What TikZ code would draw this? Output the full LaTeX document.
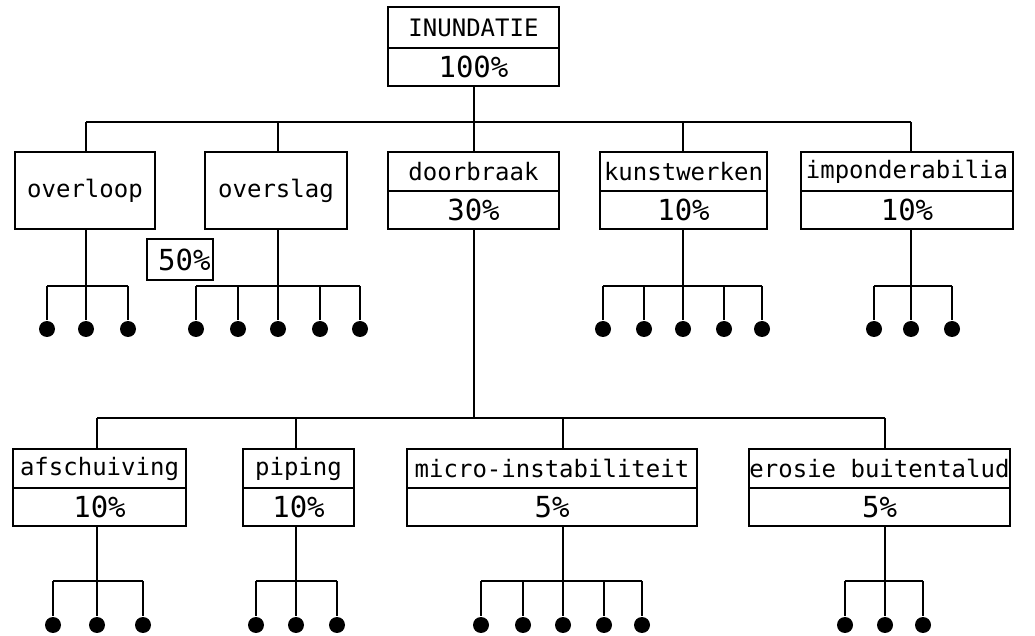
\documentclass[tikz,border=0pt]{standalone}
\usepackage{fontspec}
\newfontfamily\plotfont{DejaVu Sans Mono}
\usetikzlibrary{positioning}

\tikzset{
  cell/.style={draw, line width=1pt, inner sep=0pt, outer sep=0pt,
    minimum height=19.5pt, font=\plotfont\fontsize{12}{13}\selectfont},
  pct/.style={cell, minimum height=19pt, font=\plotfont\fontsize{14.5}{16}\selectfont},
  leaf/.style={circle, fill, inner sep=0pt, minimum size=8pt},
}

\begin{document}
\begin{tikzpicture}[x=0.5pt,y=-0.5pt,line width=1pt]
    \useasboundingbox (0,0) rectangle (1035,636);

    % bus levels
    \coordinate (b1) at (0,122);
    \coordinate (l1) at (0,286);
    \coordinate (b2) at (0,418);
    \coordinate (l2) at (0,581);

    % top
    \node[cell, minimum width=85.5pt, minimum height=20.5pt] (inu) at (473.5,27.5) {INUNDATIE};
    \node[pct, minimum width=85.5pt, below=0pt of inu] (inup) {100\%};

    % first level
    \node[cell, minimum width=70pt, minimum height=38.5pt] (overloop) at (85,190.5) {overloop};
    \node[cell, minimum width=71pt, minimum height=38.5pt] (overslag) at (276,190.5) {overslag};
    \node[cell, minimum width=85.5pt] (doorbraak) at (473.5,171.5) {doorbraak};
    \node[pct, minimum width=85.5pt, below=0pt of doorbraak] (doorbraakp) {30\%};
    \node[cell, minimum width=83.5pt] (kunst) at (683.5,171.5) {kunstwerken};
    \node[pct, minimum width=83.5pt, below=0pt of kunst] (kunstp) {10\%};
    \node[cell, minimum width=106pt] (impon) at (907,171.5) {imponderabilia};
    \node[pct, minimum width=106pt, below=0pt of impon] (imponp) {10\%};
    \node[pct, text width=31pt, align=right, inner xsep=1pt, minimum height=20.5pt] (fifty) at (179.5,259.5) {50\%};

    % second level
    \node[cell, minimum width=86.5pt] (afsch) at (99.5,468.5) {afschuiving};
    \node[pct, minimum width=86.5pt, below=0pt of afsch] (afschp) {10\%};
    \node[cell, minimum width=55.5pt] (piping) at (298.5,468.5) {piping};
    \node[pct, minimum width=55.5pt, below=0pt of piping] (pipingp) {10\%};
    \node[cell, minimum width=145pt] (micro) at (552,468.5) {micro-instabiliteit};
    \node[pct, minimum width=145pt, below=0pt of micro] (microp) {5\%};
    \node[cell, minimum width=130.5pt] (erosie) at (879.5,468.5) {erosie buitentalud};
    \node[pct, minimum width=130.5pt, below=0pt of erosie] (erosiep) {5\%};

    % leaves
    \foreach \x [count=\i] in {47,86,128} \node[leaf] (ol\i) at (\x,329) {};
    \foreach \x [count=\i] in {196,238,278,320,360} \node[leaf] (os\i) at (\x,329) {};
    \foreach \x [count=\i] in {603,644,683,724,762} \node[leaf] (kw\i) at (\x,329) {};
    \foreach \x [count=\i] in {874,911,952} \node[leaf] (ip\i) at (\x,329) {};
    \foreach \x [count=\i] in {53,97,143} \node[leaf] (af\i) at (\x,625) {};
    \foreach \x [count=\i] in {256,296,337} \node[leaf] (pi\i) at (\x,625) {};
    \foreach \x [count=\i] in {481,523,563,604,642} \node[leaf] (mi\i) at (\x,625) {};
    \foreach \x [count=\i] in {845,885,923} \node[leaf] (er\i) at (\x,625) {};

    % top tree
    \draw (inup.south) -- (inup.south |- b1);
    \draw (ol2 |- b1) -- (ip2 |- b1);
    \draw (ol2 |- b1) -- (ol2 |- overloop.north);
    \draw (os3 |- b1) -- (os3 |- overslag.north);
    \draw (doorbraak.north |- b1) -- (doorbraak.north);
    \draw (kw3 |- b1) -- (kw3 |- kunst.north);
    \draw (ip2 |- b1) -- (ip2 |- impon.north);

    % doorbraak tree
    \draw (doorbraakp.south) -- (doorbraakp.south |- b2);
    \draw (af2 |- b2) -- (er2 |- b2);
    \draw (af2 |- b2) -- (af2 |- afsch.north);
    \draw (pi2 |- b2) -- (pi2 |- piping.north);
    \draw (mi3 |- b2) -- (mi3 |- micro.north);
    \draw (er2 |- b2) -- (er2 |- erosie.north);

    % leaf branches
    \draw (ol2 |- overloop.south) -- (ol2 |- l1);
    \draw (os3 |- overslag.south) -- (os3 |- l1);
    \draw (kw3 |- kunstp.south) -- (kw3 |- l1);
    \draw (ip2 |- imponp.south) -- (ip2 |- l1);
    \draw (af2 |- afschp.south) -- (af2 |- l2);
    \draw (pi2 |- pipingp.south) -- (pi2 |- l2);
    \draw (mi3 |- microp.south) -- (mi3 |- l2);
    \draw (er2 |- erosiep.south) -- (er2 |- l2);

    \draw (ol1 |- l1) -- (ol3 |- l1);
    \draw (os1 |- l1) -- (os5 |- l1);
    \draw (kw1 |- l1) -- (kw5 |- l1);
    \draw (ip1 |- l1) -- (ip3 |- l1);
    \draw (af1 |- l2) -- (af3 |- l2);
    \draw (pi1 |- l2) -- (pi3 |- l2);
    \draw (mi1 |- l2) -- (mi5 |- l2);
    \draw (er1 |- l2) -- (er3 |- l2);

    \foreach \i in {1,2,3} {
        \draw (ol\i |- l1) -- (ol\i);
        \draw (ip\i |- l1) -- (ip\i);
        \draw (af\i |- l2) -- (af\i);
        \draw (pi\i |- l2) -- (pi\i);
        \draw (er\i |- l2) -- (er\i);
    }
    \foreach \i in {1,...,5} {
        \draw (os\i |- l1) -- (os\i);
        \draw (kw\i |- l1) -- (kw\i);
        \draw (mi\i |- l2) -- (mi\i);
    }
\end{tikzpicture}
\end{document}
